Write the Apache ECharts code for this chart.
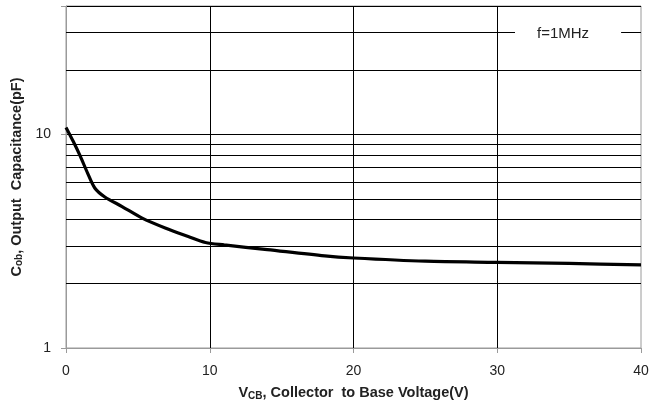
<!DOCTYPE html>
<html>
<head>
<meta charset="utf-8">
<script src="https://cdn.jsdelivr.net/npm/echarts@6/dist/echarts.min.js"></script>
<style>html,body{margin:0;padding:0;background:#fff}#c{width:665px;height:409px}</style>
</head>
<body>
<div id="c"></div>
<script>
var vcb = [0, 0.5, 1, 1.5, 2, 2.7, 3.9, 5.3, 6.9, 8.5, 9.7, 11, 14, 18, 20, 25, 30, 35, 40];
var cob = [10.8, 9.3, 7.9, 6.6, 5.62, 5.1, 4.6, 4.06, 3.65, 3.33, 3.12, 3.04, 2.89, 2.70, 2.64, 2.55, 2.52, 2.49, 2.45];
var minorGrid = [2, 3, 4, 5, 6, 7, 8, 9, 20, 30];
var yLabels = [1, 10];
var note = 'f=1MHz';

var font = 'Liberation Sans, Arial, sans-serif';
var chart = echarts.init(document.getElementById('c'));
chart.setOption({
  animation: false,
  textStyle: {fontFamily: font},
  title: {
    text: note, left: 515, top: 25, backgroundColor: '#fff', padding: [1, 32, 1, 22],
    textStyle: {fontSize: 15, fontWeight: 'normal', color: '#222', fontFamily: font}
  },
  grid: {left: 66, right: 24, top: 6, bottom: 61, show: true, borderColor: '#9a9a9a', borderWidth: 1},
  xAxis: {
    type: 'value', min: 0, max: 40, interval: 10,
    axisLine: {show: true, lineStyle: {color: '#9a9a9a'}},
    axisTick: {show: true, length: 5, lineStyle: {color: '#9a9a9a'}},
    axisLabel: {fontSize: 14, color: '#222', margin: 16, fontFamily: font},
    splitLine: {show: true, showMinLine: false, showMaxLine: false, lineStyle: {color: '#000', width: 1}},
    name: '{n|V}{s|CB}{n|, Collector  to Base Voltage(V)}',
    nameLocation: 'middle', nameGap: 37,
    nameTextStyle: {
      rich: {
        n: {fontSize: 14.5, fontWeight: 'bold', color: '#222', fontFamily: font},
        s: {fontSize: 10, fontWeight: 'bold', color: '#222', fontFamily: font, padding: [6, 0, 0, 0]}
      }
    }
  },
  yAxis: {
    type: 'log', logBase: 10, min: 1, max: 40,
    axisLine: {show: true, lineStyle: {color: '#9a9a9a'}},
    axisTick: {show: true, length: 5, lineStyle: {color: '#9a9a9a'}},
    axisLabel: {
      fontSize: 14, color: '#222', margin: 15, fontFamily: font,
      formatter: function (v) { return yLabels.indexOf(Math.round(v)) >= 0 ? String(Math.round(v)) : ''; }
    },
    splitLine: {show: true, showMinLine: false, lineStyle: {color: '#000', width: 1}},
    name: '{n|C}{s|ob}{n|, Output  Capacitance(pF)}',
    nameLocation: 'middle', nameGap: 38, nameRotate: 90,
    nameTextStyle: {
      rich: {
        n: {fontSize: 14.5, fontWeight: 'bold', color: '#222', fontFamily: font},
        s: {fontSize: 10, fontWeight: 'bold', color: '#222', fontFamily: font, padding: [6, 0, 0, 0]}
      }
    }
  },
  series: [{
    type: 'line',
    data: vcb.map(function (x, i) { return [x, cob[i]]; }),
    smooth: 0.3,
    showSymbol: false,
    lineStyle: {color: '#000', width: 3.2},
    z: 5,
    markLine: {
      silent: true, symbol: 'none', label: {show: false}, animation: false,
      lineStyle: {color: '#000', width: 1, type: 'solid'},
      data: minorGrid.map(function (v) { return {yAxis: v}; })
    }
  }]
});
</script>
</body>
</html>
